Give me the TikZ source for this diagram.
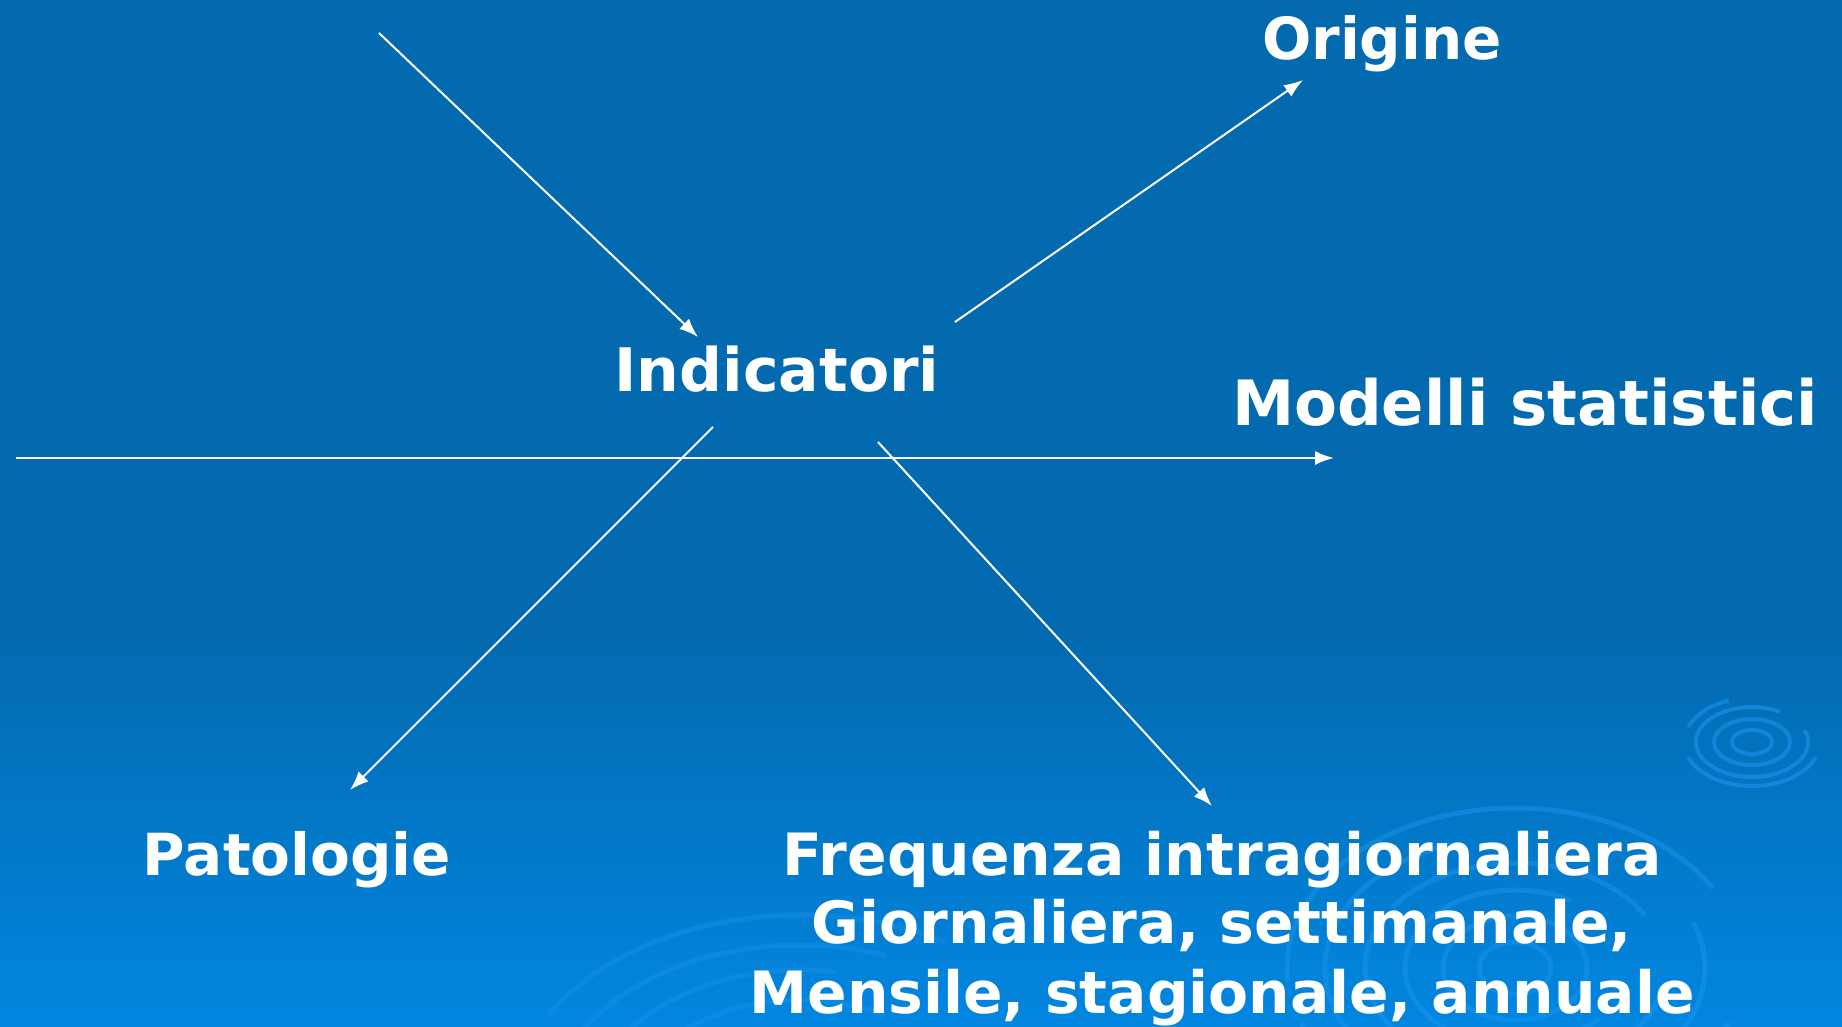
\documentclass[tikz,border=0pt]{standalone}
\usepackage{fontspec}
\setmainfont{DejaVu Sans}
\usetikzlibrary{arrows.meta}
\definecolor{bgtop}{RGB}{3,106,176}
\definecolor{bgbot}{RGB}{2,134,224}
\definecolor{ring}{RGB}{30,150,240}
\tikzset{
  lbl/.style={text=white,font=\bfseries\fontsize{#1}{68}\selectfont,inner sep=0pt,anchor=base},
  lbl/.default=60,
  conn/.style={draw=white,line width=2pt,-{Latex[length=19pt,width=14pt]}},
  ringarc/.style={draw=ring,line width=5pt,opacity=0.45}
}
\begin{document}
\begin{tikzpicture}[x=1pt,y=-1pt]
\useasboundingbox (0,0) rectangle (1842,1026);
% background
\fill[bgtop] (0,0) rectangle (1842,640);
\shade[top color=bgtop,bottom color=bgbot] (0,639) rectangle (1842,1026);
% decorative ripples
\begin{scope}
\clip (0,0) rectangle (1842,1026);
\foreach \rx/\ry/\a/\b in {228/160/20/160,228/160/175/330,190/132/-20/110,190/132/130/250,150/105/10/200,150/105/215/330,110/78/40/300,72/52/0/360,36/26/0/360}{
  \draw[ringarc] (1515,968) ++({\rx*cos(\a)},{\ry*sin(\a)}) arc[start angle=\a,end angle=\b,x radius=\rx,y radius=\ry];
}
\foreach \rx/\ry/\a/\b in {290/200/210/300,250/170/200/290,210/145/190/280,170/115/210/300}{
  \draw[ringarc,opacity=0.35] (800,1115) ++({\rx*cos(\a)},{\ry*sin(\a)}) arc[start angle=\a,end angle=\b,x radius=\rx,y radius=\ry];
}
\foreach \rx/\ry/\a/\b in {20/12/0/360,38/23/0/360,56/35/-20/300,68/44/20/160,68/44/200/250}{
  \draw[ringarc,line width=4pt,opacity=0.55] (1752,742) ++({\rx*cos(\a)},{\ry*sin(\a)}) arc[start angle=\a,end angle=\b,x radius=\rx,y radius=\ry];
}
\end{scope}
% labels
\node[lbl=58] (orig) at (1382,59) {Origine};
\node[lbl=60] (ind) at (777,391) {Indicatori};
\node[lbl=62.5] (mod) at (1525,425) {Modelli statistici};
\node[lbl=58] (pat) at (297,875) {Patologie};
\node[lbl=58.3] (freq1) at (1222,875) {Frequenza intragiornaliera};
\node[lbl=58.3] (freq2) at (1222,943) {Giornaliera, settimanale,};
\node[lbl=58.3] (freq3) at (1222,1013) {Mensile, stagionale, annuale};
% connector endpoints
\coordinate (a1s) at (379,33);
\coordinate (a1e) at (698,337);
\coordinate (a2s) at (955,322);
\coordinate (a2e) at (1303,80);
\coordinate (hs) at (16,458);
\coordinate (he) at (1334,458);
\coordinate (ps) at (713,427);
\coordinate (pe) at (350,790);
\coordinate (fs) at (878,442);
\coordinate (fe) at (1212,806);
\draw[conn] (a1s) -- (a1e);
\draw[conn] (a2s) -- (a2e);
\draw[conn] (hs) -- (he);
\draw[conn] (ps) -- (pe);
\draw[conn] (fs) -- (fe);
\end{tikzpicture}
\end{document}
